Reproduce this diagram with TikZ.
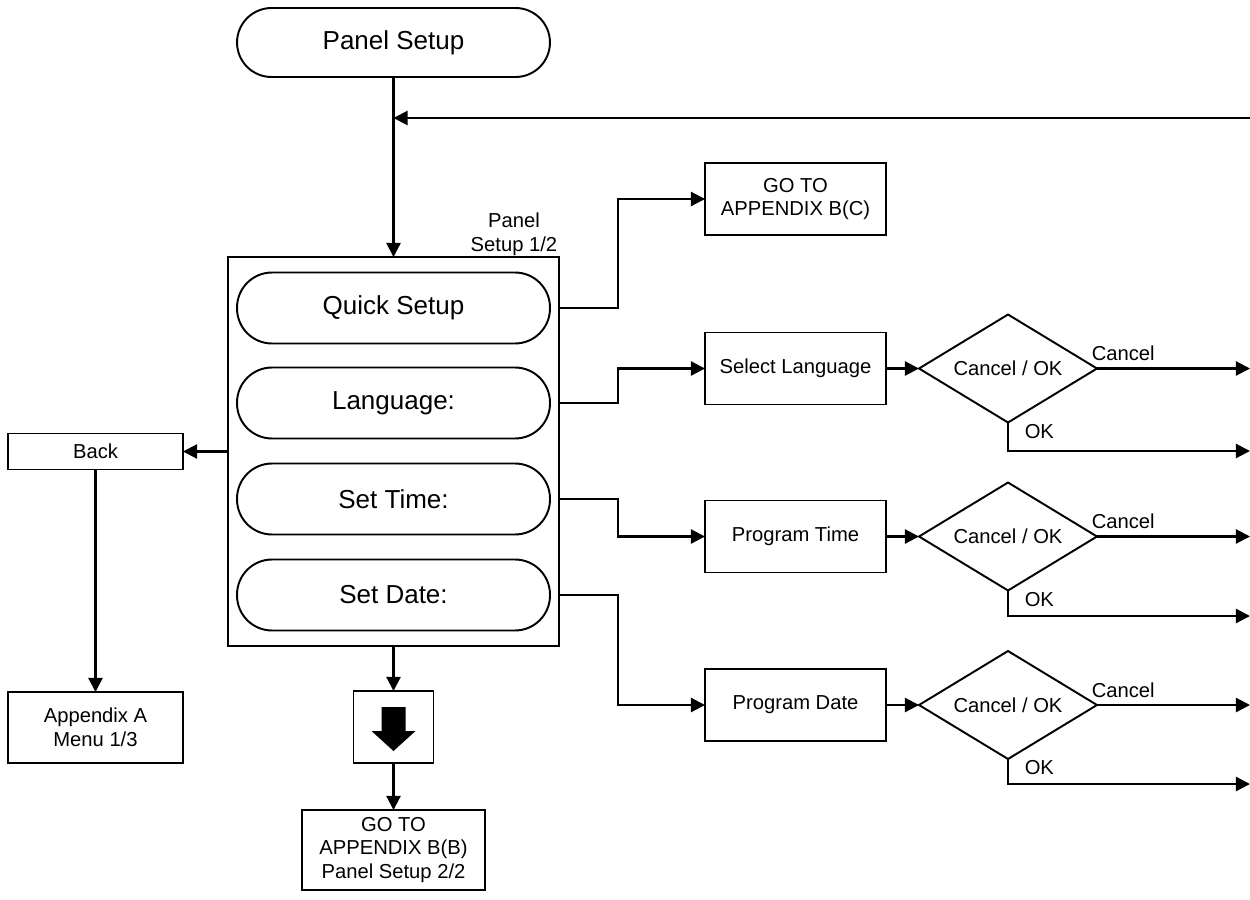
\documentclass[tikz,border=0pt]{standalone}
\usepackage{fontspec}
\setmainfont{Liberation Sans}
\usetikzlibrary{arrows.meta,shapes.geometric,positioning}
\newcommand{\menufont}{\fontsize{14.8}{17}\selectfont}
\newcommand{\boxfont}{\fontsize{11.5}{13.6}\selectfont}

\begin{document}
\begin{tikzpicture}[x=0.02cm,y=-0.02cm,outer sep=0pt,line width=1.1pt]
\tikzstyle{pill}=[draw, rectangle, rounded corners=0.7cm, minimum width=6.26cm,
    minimum height=1.42cm, font=\menufont]
\tikzstyle{box}=[draw, rectangle, align=center, font=\boxfont, minimum width=3.62cm,
    minimum height=1.44cm]
\tikzstyle{decision}=[draw, diamond, font=\boxfont, inner sep=0pt, aspect=1.65,
    minimum width=3.56cm, minimum height=2.16cm]
\tikzstyle{lbl}=[font=\boxfont, inner sep=1pt]
\tikzstyle{arr}=[draw, line width=1.2pt, -{Triangle[length=8pt,width=8pt]}]
\useasboundingbox (0,0) rectangle (1250,899);
    % start and the setup menu
    \node (setup) [pill, minimum height=1.38cm, rounded corners=0.69cm] at (393.5,42.5) {Panel Setup};
    \node (panel) [box, minimum width=6.62cm, minimum height=7.78cm] at (393.5,451.5) {};
    \node (paneltag) [lbl, anchor=south east, align=center] at (panel.north east) {Panel\\Setup 1/2};
    \node (quick) [pill] at (393.5,308) {Quick Setup};
    \node (lang) [pill] at (393.5,403) {Language:};
    \node (time) [pill] at (393.5,499) {Set Time:};
    \node (date) [pill] at (393.5,595) {Set Date:};
    % left and bottom
    \node (back) [box, minimum width=3.5cm, minimum height=0.72cm] at (95.5,451.5) {Back};
    \node (appa) [box, minimum width=3.5cm, minimum height=1.42cm] at (95.5,727.5) {Appendix A\\Menu 1/3};
    \node (darr) [box, minimum width=1.6cm, minimum height=1.44cm] at (393.5,727) {};
    \fill ([shift={(-12,-20)}]darr.center) -- ([shift={(12,-20)}]darr.center)
        -- ([shift={(12,4)}]darr.center) -- ([shift={(22,4)}]darr.center)
        -- ([shift={(0,24)}]darr.center) -- ([shift={(-22,4)}]darr.center)
        -- ([shift={(-12,4)}]darr.center) -- cycle;
    \node (gotob) [box, minimum width=3.66cm, minimum height=1.6cm] at (393.5,850) {GO TO\\APPENDIX B(B)\\Panel Setup 2/2};
    % right side
    \node (gotoc) [box] at (795.5,199) {GO TO\\APPENDIX B(C)};
    \node (sellang) [box] at (795.5,368.5) {Select Language};
    \node (progtime) [box] at (795.5,536.5) {Program Time};
    \node (progdate) [box] at (795.5,705) {Program Date};
    \node (d1) [decision] at (1008,368.5) {Cancel / OK};
    \node (d2) [decision] at (1008,536.5) {Cancel / OK};
    \node (d3) [decision] at (1008,705) {Cancel / OK};
    \node (cl1) [lbl, anchor=south west] at ([shift={(-7,-6)}]d1.east) {Cancel};
    \node (cl2) [lbl, anchor=south west] at ([shift={(-7,-6)}]d2.east) {Cancel};
    \node (cl3) [lbl, anchor=south west] at ([shift={(-7,-6)}]d3.east) {Cancel};
    \node (ok1) [lbl, anchor=north west] at ([shift={(15,0)}]d1.south) {OK};
    \node (ok2) [lbl, anchor=north west] at ([shift={(15,0)}]d2.south) {OK};
    \node (ok3) [lbl, anchor=north west] at ([shift={(15,0)}]d3.south) {OK};
    \coordinate (fb) at (1250,118);
    \coordinate (c1) at (1250,368.5);
    \coordinate (o1) at (1250,451);
    \coordinate (c2) at (1250,536.5);
    \coordinate (o2) at (1250,616);
    \coordinate (c3) at (1250,705);
    \coordinate (o3) at (1250,784);
    % connectors
    \draw[arr] (setup) -- (panel);
    \draw[arr] (fb) -- (fb -| setup.south);
    \draw[arr] (panel) -- (back);
    \draw[arr] (back) -- (appa);
    \draw[arr] (panel) -- (darr);
    \draw[arr] (darr) -- (gotob);
    \draw[arr] (quick.east -| panel.east) -- ++(59,0) |- (gotoc.west);
    \draw[arr] (lang.east -| panel.east) -- ++(59,0) |- (sellang.west);
    \draw[arr] (time.east -| panel.east) -- ++(59,0) |- (progtime.west);
    \draw[arr] (date.east -| panel.east) -- ++(59,0) |- (progdate.west);
    \draw[arr] (sellang) -- (d1);
    \draw[arr] (progtime) -- (d2);
    \draw[arr] (progdate) -- (d3);
    \draw[arr] (d1.east) -- (c1);
    \draw[arr] (d2.east) -- (c2);
    \draw[arr] (d3.east) -- (c3);
    \draw[arr] (d1.south) |- (o1);
    \draw[arr] (d2.south) |- (o2);
    \draw[arr] (d3.south) |- (o3);
\end{tikzpicture}
\end{document}
